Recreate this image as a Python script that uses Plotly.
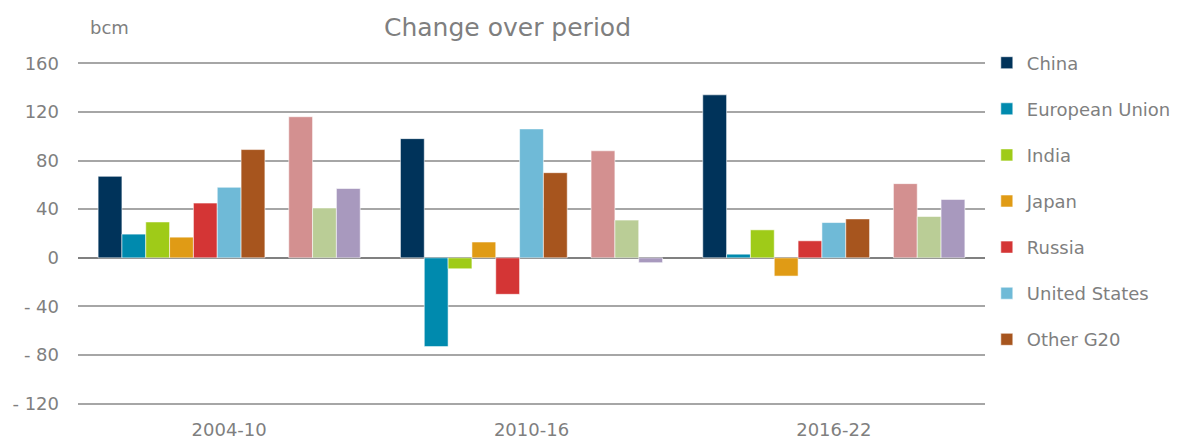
import plotly.graph_objects as go

periods = ["2004-10", "2010-16", "2016-22"]

series_names = ["China", "European Union", "India", "Japan", "Russia",
                "United States", "Other G20", "", "Series 9", "Series 10", "Series 11"]
china = [67, 98, 134]
eu = [19.5, -73, 3]
india = [29.5, -9, 23]
japan = [17, 13, -15]
russia = [45, -30, 14]
usa = [58, 106, 29]
other_g20 = [89, 70, 32]
gap = [0, 0, 0]
s9 = [116, 88, 61]
s10 = [41, 31, 34]
s11 = [57, -4, 48]

values = [china, eu, india, japan, russia, usa, other_g20, gap, s9, s10, s11]
colors = ["#00335A", "#008AAE", "#9FCB18", "#E09B15", "#D43535",
          "#6FBAD7", "#A7551E", "rgba(0,0,0,0)", "#D39090", "#BACD96", "#A899BE"]
in_legend = [True] * 7 + [False] * 4

y_ticks = [160, 120, 80, 40, 0, -40, -80, -120]
y_tick_text = ["160", "120", "80", "40", "0", "- 40", "- 80", "- 120"]

FONT = "DejaVu Sans"
GREY = "#7F7F7F"

fig = go.Figure()
for i, (name, vals, col, leg) in enumerate(zip(series_names, values, colors, in_legend)):
    fig.add_trace(go.Bar(
        x=periods, y=vals, name=name if name else "gap",
        marker=dict(color=col,
                    line=dict(width=0 if name == "" else 1,
                              color="rgba(255,255,255,0.55)")),
        showlegend=leg, legendgroup=f"g{i}",
        hoverinfo="skip" if name == "" else None,
    ))

fig.update_layout(
    width=1180, height=432,
    margin=dict(l=70, r=203, t=54, b=35, autoexpand=False),
    barmode="group", bargap=0.133, bargroupgap=0,
    plot_bgcolor="white", paper_bgcolor="white",
    font=dict(family=FONT, color=GREY, size=18),
    legend=dict(x=1.002, xanchor="left", y=1.051, yanchor="top",
                font=dict(size=18, color=GREY), tracegroupgap=19.7,
                itemwidth=30, bgcolor="rgba(0,0,0,0)", maxheight=432),
    xaxis=dict(type="category", showgrid=False, showline=False, ticks="",
               tickfont=dict(size=18, color=GREY), automargin=False,
               ticklabelstandoff=12),
    yaxis=dict(range=[-121, 161], tickvals=y_ticks, ticktext=y_tick_text,
               showgrid=True, gridcolor="#A6A6A6", gridwidth=1.6,
               zeroline=True, zerolinecolor="#808080", zerolinewidth=2.2,
               showline=False, ticks="", ticklabelstandoff=18, automargin=False,
               tickfont=dict(size=18, color=GREY)),
    annotations=[
        dict(text="bcm", xref="paper", yref="paper", x=(88 - 78) / 907, y=1.0 + (62 - 28) / 343,
             xanchor="left", yanchor="middle", showarrow=False,
             font=dict(size=18, color=GREY, family=FONT)),
        dict(text="Change over period", xref="paper", yref="paper", x=(507 - 78) / 907,
             y=1.0 + (62 - 28) / 343, xanchor="center", yanchor="middle", showarrow=False,
             font=dict(size=25, color=GREY, family=FONT)),
    ],
)

fig.write_html("out.html")
